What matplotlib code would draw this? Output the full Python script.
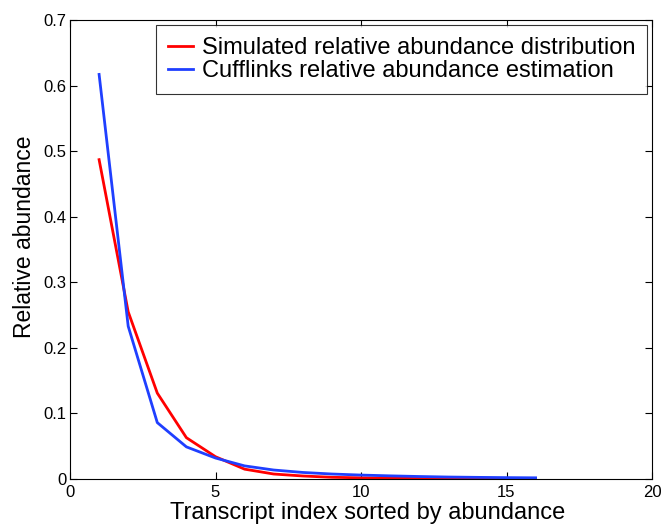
import matplotlib
matplotlib.use("Agg")
import matplotlib.pyplot as plt

plt.rcParams['font.family'] = ['Liberation Sans', 'DejaVu Sans']

# ----- DATA -----
transcript_index = list(range(1, 17))
simulated = [0.487, 0.255, 0.131, 0.063, 0.034, 0.015, 0.0076, 0.0046,
             0.0026, 0.0018, 0.0012, 0.0008, 0.0006, 0.0004, 0.0003, 0.0002]
cufflinks = [0.617, 0.233, 0.086, 0.049, 0.032, 0.020, 0.0137, 0.010,
             0.0076, 0.006, 0.0048, 0.0038, 0.003, 0.0025, 0.0021, 0.0018]
labels = ["Simulated relative abundance distribution",
          "Cufflinks relative abundance estimation"]

fig = plt.figure(figsize=(6.65, 5.29), dpi=100)
ax = fig.add_axes([70 / 665, 1 - 479 / 529, 582 / 665, 459 / 529])

ax.plot(transcript_index, simulated, color="#ff0000", linewidth=2, label=labels[0])
ax.plot(transcript_index, cufflinks, color="#1f3fff", linewidth=2, label=labels[1])

ax.set_xlim(0, 20)
ax.set_ylim(0, 0.7)
ax.set_xticks([0, 5, 10, 15, 20])
ax.set_yticks([0, 0.1, 0.2, 0.3, 0.4, 0.5, 0.6, 0.7])
ax.set_yticklabels(["0", "0.1", "0.2", "0.3", "0.4", "0.5", "0.6", "0.7"])
ax.tick_params(direction="in", top=True, right=True, labelsize=12, length=5)
ax.tick_params(axis="x", pad=4.5)
ax.tick_params(axis="y", pad=2.5)

ax.set_xlabel("Transcript index sorted by abundance", fontsize=17, labelpad=1)
ax.set_ylabel("Relative abundance", fontsize=16.5, labelpad=5)
ax.xaxis.label.set_x(0.512)
ax.yaxis.label.set_y(0.527)

leg = ax.legend(loc="upper right", fontsize=17, fancybox=False, edgecolor="black",
                handlelength=1.06, borderaxespad=0.22, labelspacing=0.05,
                borderpad=0.5, handletextpad=0.38)
leg.get_frame().set_linewidth(0.8)

fig.savefig("out.png", dpi=100)
